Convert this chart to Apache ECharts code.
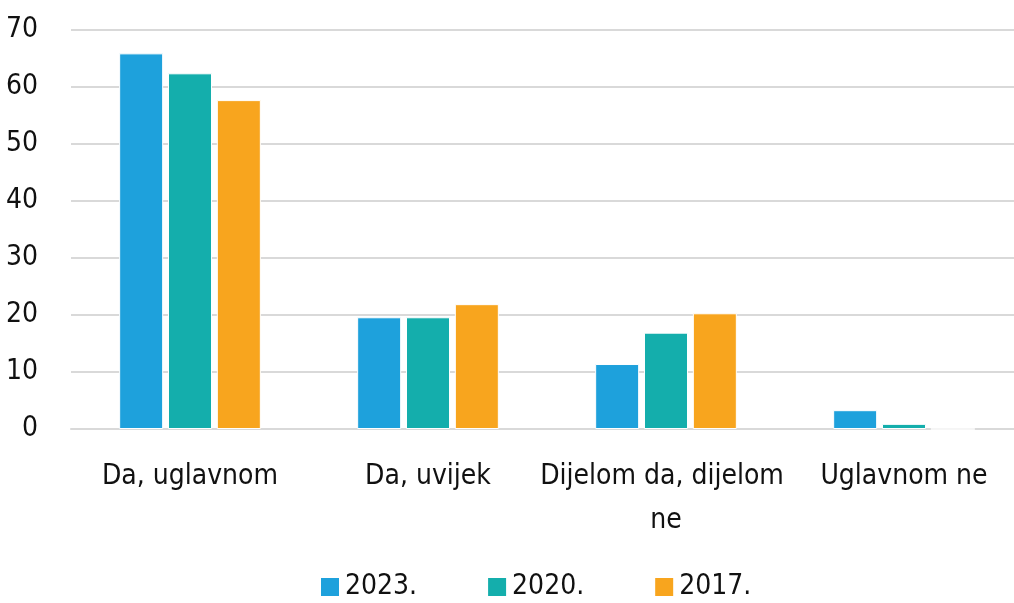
<!DOCTYPE html>
<html>
<head>
    <meta charset="utf-8">
    <script src="https://cdn.jsdelivr.net/npm/echarts@6/dist/echarts.min.js"></script>
    <style>
        * { margin: 0; padding: 0; }
        body { background: #fff; overflow: hidden; }
        #chart { width: 1014px; height: 603px; }
    </style>
</head>
<body>
    <div id="chart"></div>
    <script>
        // kategorije i vrijednosti (%)
        const categories = ['Da, uglavnom', 'Da, uvijek', 'Dijelom da, dijelom ne', 'Uglavnom ne'];
        const years = ['2023.', '2020.', '2017.'];
        const values2023 = [65.9, 19.6, 11.4, 3.3];
        const values2020 = [62.4, 19.6, 16.9, 0.9];
        const values2017 = [57.7, 21.9, 20.3, 0];
        const colors = ['#1ea1dc', '#14aeac', '#f8a51e'];

        const font = '"Liberation Sans Narrow", "DejaVu Sans Condensed", sans-serif';

        const makeSeries = (name, data, color) => ({
            name: name,
            type: 'bar',
            data: data,
            barWidth: 44,
            barGap: '11%',
            itemStyle: { color: color, borderColor: '#fff', borderWidth: 1 }
        });

        const chart = echarts.init(document.getElementById('chart'));
        chart.setOption({
            animation: false,
            color: colors,
            grid: {
                left: 71, right: -9, top: 30, bottom: 174,
                containLabel: false,
                outerBoundsMode: 'none'
            },
            legend: {
                top: 573,
                left: 319,
                padding: 0,
                itemWidth: 20,
                itemHeight: 20,
                itemGap: 69,
                icon: 'rect',
                textStyle: { fontFamily: font, fontSize: 28, color: '#111' },
                data: years
            },
            xAxis: {
                type: 'category',
                data: categories,
                axisLine: { lineStyle: { color: '#d9d9d9', width: 2 } },
                axisTick: { show: false },
                axisLabel: {
                    fontFamily: font,
                    fontSize: 28,
                    color: '#111',
                    margin: 26,
                    lineHeight: 44,
                    interval: 0,
                    width: 275,
                    overflow: 'break'
                }
            },
            yAxis: {
                type: 'value',
                min: 0,
                max: 70,
                interval: 10,
                axisLine: { show: false },
                axisTick: { show: false },
                splitLine: { lineStyle: { color: '#d9d9d9', width: 2 } },
                axisLabel: {
                    fontFamily: font,
                    fontSize: 28,
                    color: '#111',
                    margin: 33
                }
            },
            series: [
                makeSeries(years[0], values2023, colors[0]),
                makeSeries(years[1], values2020, colors[1]),
                makeSeries(years[2], values2017, colors[2])
            ]
        });
    </script>
</body>
</html>
